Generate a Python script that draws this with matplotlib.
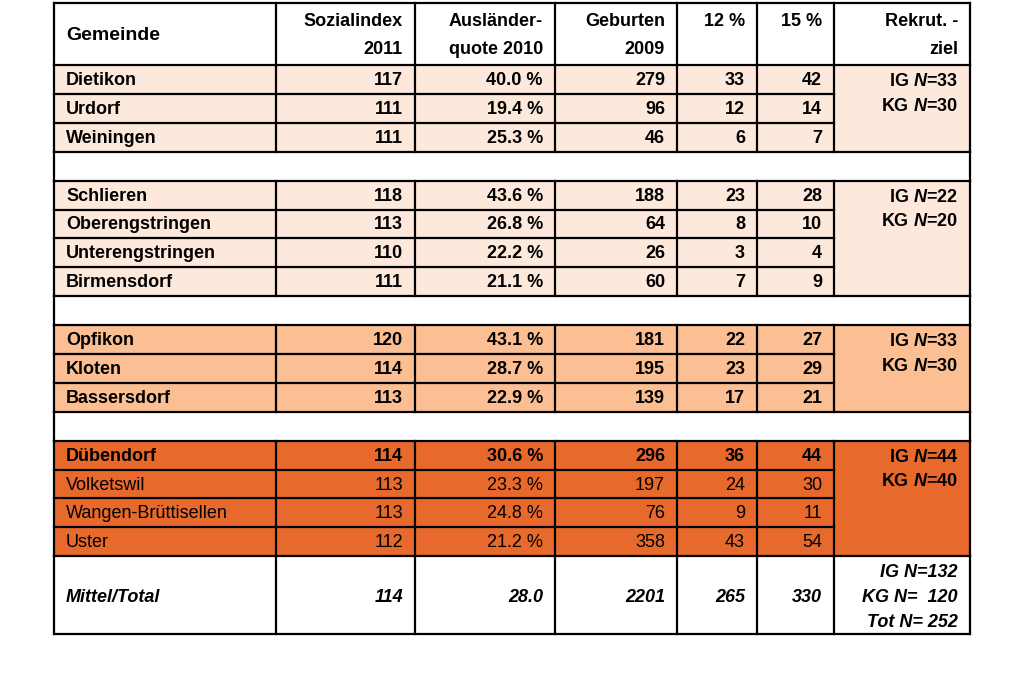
import matplotlib.pyplot as plt
from matplotlib.patches import Rectangle

plt.rcParams['font.family'] = ['Liberation Sans', 'DejaVu Sans']
plt.rcParams['mathtext.fontset'] = 'custom'
plt.rcParams['mathtext.it'] = 'Liberation Sans:bold:italic'
plt.rcParams['mathtext.rm'] = 'Liberation Sans:bold'

# --- Daten ---
gemeinden = ['Dietikon', 'Urdorf', 'Weiningen',
             'Schlieren', 'Oberengstringen', 'Unterengstringen', 'Birmensdorf',
             'Opfikon', 'Kloten', 'Bassersdorf',
             'Dübendorf', 'Volketswil', 'Wangen-Brüttisellen', 'Uster']
sozialindex = [117, 111, 111, 118, 113, 110, 111, 120, 114, 113, 114, 113, 113, 112]
quote = [40.0, 19.4, 25.3, 43.6, 26.8, 22.2, 21.1, 43.1, 28.7, 22.9, 30.6, 23.3, 24.8, 21.2]
geburten = [279, 96, 46, 188, 64, 26, 60, 181, 195, 139, 296, 197, 76, 358]
p12 = [33, 12, 6, 23, 8, 3, 7, 22, 23, 17, 36, 24, 9, 43]
p15 = [42, 14, 7, 28, 10, 4, 9, 27, 29, 21, 44, 30, 11, 54]
gruppe = [0, 0, 0, 1, 1, 1, 1, 2, 2, 2, 3, 3, 3, 3]
fett = [True] * 11 + [False] * 3
rekrut_ig = [33, 22, 33, 44]
rekrut_kg = [30, 20, 30, 40]
total = ['114', '28.0', '2201', '265', '330']
total_rekrut = ['IG N=132', 'KG N=  120', 'Tot N= 252']
kopf = [('Gemeinde', ''), ('Sozialindex', '2011'), ('Ausländer-', 'quote 2010'),
        ('Geburten', '2009'), ('12 %', ''), ('15 %', ''), ('Rekrut. -', 'ziel')]

farben = ['#FDE9DC', '#FDE9DC', '#FBBF93', '#E8692C']

# --- Layout (Pixel) ---
xs = [54, 276, 415, 555, 677, 757, 834, 970]
y_top = 3
h_kopf = 62
h_zeile = 28.9
h_leer = 28.9
h_total = 78
lw = 1.6
pad = 12
fs = 13

fig = plt.figure(figsize=(10.24, 6.78), dpi=100)
ax = fig.add_axes([0, 0, 1, 1])
ax.set_xlim(0, 1024)
ax.set_ylim(678, 0)
ax.axis('off')


def hline(y, x0=xs[0], x1=xs[-1]):
    ax.plot([x0, x1], [y, y], color='black', lw=lw, solid_capstyle='projecting')


def vline(x, y0, y1):
    ax.plot([x, x], [y0, y1], color='black', lw=lw, solid_capstyle='projecting')


# Kopfzeile
y = y_top
for i, (a, b) in enumerate(kopf):
    if i == 0:
        ax.text(xs[0] + pad, y + h_kopf / 2 + 1, a, fontsize=14, fontweight='bold',
                ha='left', va='center')
    else:
        ax.text(xs[i + 1] - pad, y + 18, a, fontsize=fs, fontweight='bold',
                ha='right', va='center')
        if b:
            ax.text(xs[i + 1] - pad, y + 47, b, fontsize=fs, fontweight='bold',
                    ha='right', va='center')
hline(y)
for x in xs:
    vline(x, y, y + h_kopf)
y += h_kopf
hline(y)

# Gruppen
for g in range(4):
    idx = [k for k in range(len(gemeinden)) if gruppe[k] == g]
    g_top = y
    g_h = h_zeile * len(idx)
    ax.add_patch(Rectangle((xs[0], g_top), xs[-1] - xs[0], g_h,
                           facecolor=farben[g], edgecolor='none', zorder=0))
    for j, k in enumerate(idx):
        yc = g_top + h_zeile * (j + 0.5) + 1
        w = 'bold' if fett[k] else 'normal'
        werte = [str(sozialindex[k]), f'{quote[k]:.1f} %', str(geburten[k]),
                 str(p12[k]), str(p15[k])]
        ax.text(xs[0] + pad, yc, gemeinden[k], fontsize=fs, fontweight=w,
                ha='left', va='center')
        for c, v in enumerate(werte):
            ax.text(xs[c + 2] - pad, yc, v, fontsize=fs, fontweight=w,
                    ha='right', va='center')
        if j > 0:
            hline(g_top + h_zeile * j, xs[0], xs[-2])
    ax.text(xs[-1] - pad, g_top + h_zeile * 0.5 + 2, f'IG $N$={rekrut_ig[g]}',
            fontsize=fs, fontweight='bold', ha='right', va='center')
    ax.text(xs[-1] - pad, g_top + h_zeile * 1.35 + 2, f'KG $N$={rekrut_kg[g]}',
            fontsize=fs, fontweight='bold', ha='right', va='center')
    for x in xs:
        vline(x, g_top, g_top + g_h)
    y = g_top + g_h
    hline(y)
    if g < 3:
        vline(xs[0], y, y + h_leer)
        vline(xs[-1], y, y + h_leer)
        y += h_leer
        hline(y)

# Totalzeile
yc = y + h_total / 2 + 2
ax.text(xs[0] + pad, yc, 'Mittel/Total', fontsize=fs, fontweight='bold',
        style='italic', ha='left', va='center')
for c, v in enumerate(total):
    ax.text(xs[c + 2] - pad, yc, v, fontsize=fs, fontweight='bold',
            style='italic', ha='right', va='center')
for j, t in enumerate(total_rekrut):
    ax.text(xs[-1] - pad, yc + (j - 1) * 25, t, fontsize=fs, fontweight='bold',
            style='italic', ha='right', va='center')
for x in xs:
    vline(x, y, y + h_total)
y += h_total
hline(y)

fig.savefig('out.png', dpi=100, facecolor='white')
